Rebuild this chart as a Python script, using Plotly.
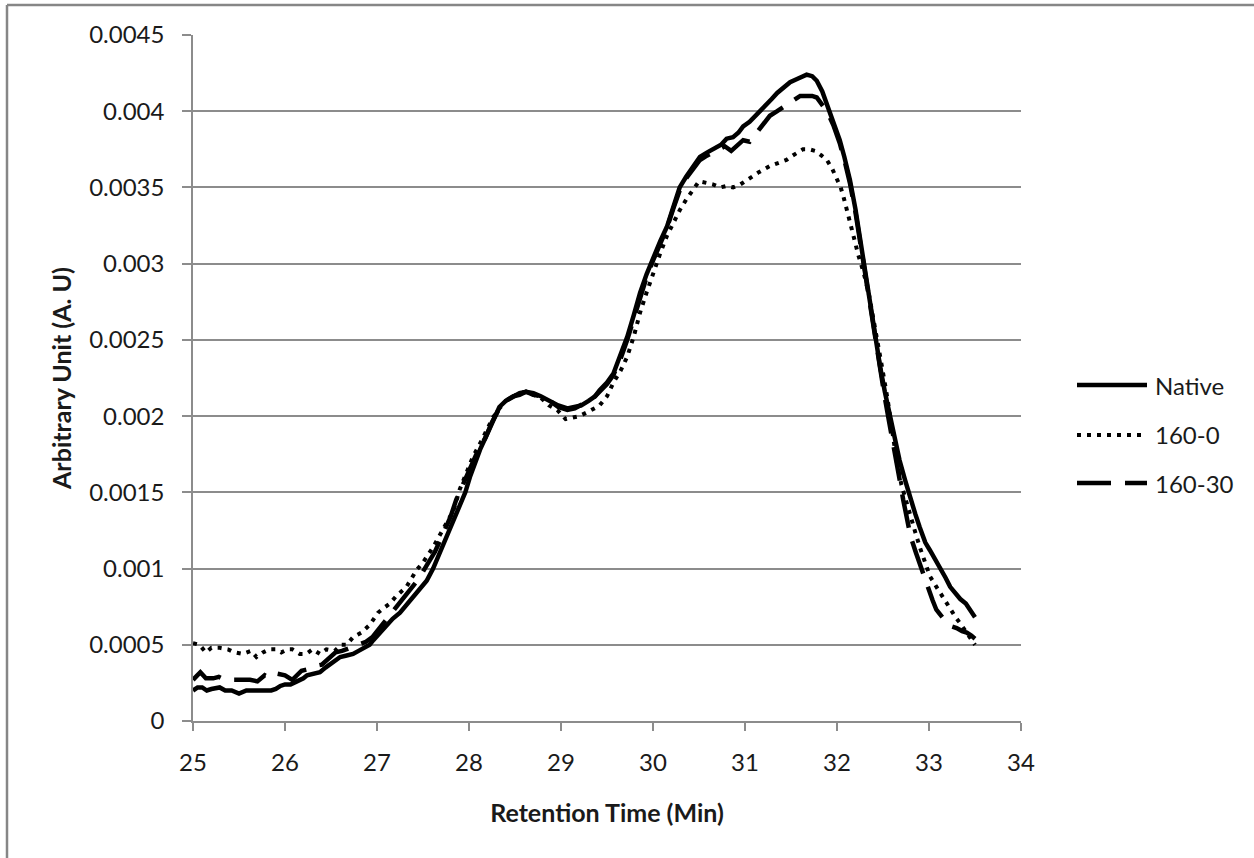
import plotly.graph_objects as go

# ---------------- data ----------------
native_t = [25.00, 25.05, 25.10, 25.15, 25.20, 25.29, 25.35, 25.42, 25.50, 25.58, 25.66, 25.76, 25.85, 25.90,
            25.95, 26.00, 26.06, 26.13, 26.20, 26.24, 26.31, 26.38, 26.44, 26.49, 26.55, 26.60, 26.67, 26.74,
            26.80, 26.87, 26.92, 26.96, 27.03, 27.10, 27.17, 27.25, 27.32, 27.39, 27.46, 27.54, 27.61, 27.68,
            27.74, 27.79, 27.85, 27.90, 27.96, 28.01, 28.07, 28.12, 28.18, 28.23, 28.28, 28.33, 28.40, 28.48,
            28.55, 28.62, 28.70, 28.78, 28.88, 28.97, 29.07, 29.15, 29.22, 29.30, 29.37, 29.42, 29.50, 29.57,
            29.65, 29.72, 29.79, 29.86, 29.93, 30.00, 30.08, 30.15, 30.22, 30.29, 30.36, 30.43, 30.51, 30.59,
            30.66, 30.74, 30.80, 30.87, 30.93, 30.98, 31.05, 31.10, 31.16, 31.22, 31.29, 31.35, 31.42, 31.49,
            31.56, 31.62, 31.67, 31.73, 31.78, 31.84, 31.89, 31.96, 32.03, 32.08, 32.14, 32.20, 32.25, 32.30,
            32.36, 32.41, 32.47, 32.52, 32.58, 32.63, 32.68, 32.74, 32.79, 32.85, 32.90, 32.96, 33.01, 33.07,
            33.12, 33.18, 33.23, 33.29, 33.34, 33.40, 33.45, 33.50]
native_v = [0.00020, 0.00022, 0.00022, 0.00020, 0.00021, 0.00022, 0.00020, 0.00020, 0.00018, 0.00020, 0.00020,
            0.00020, 0.00020, 0.00021, 0.00023, 0.00024, 0.00024, 0.00026, 0.00028, 0.00030, 0.00031, 0.00032,
            0.00035, 0.00037, 0.00040, 0.00042, 0.00043, 0.00044, 0.00046, 0.00048, 0.00050, 0.00053, 0.00058,
            0.00062, 0.00067, 0.00071, 0.00076, 0.00081, 0.00086, 0.00092, 0.00100, 0.00110, 0.00118, 0.00125,
            0.00133, 0.00140, 0.00150, 0.00160, 0.00170, 0.00178, 0.00186, 0.00193, 0.00200, 0.00206, 0.00210,
            0.00213, 0.00215, 0.00216, 0.00215, 0.00213, 0.00210, 0.00207, 0.00205, 0.00206, 0.00207, 0.00210,
            0.00213, 0.00217, 0.00222, 0.00228, 0.00240, 0.00252, 0.00266, 0.00281, 0.00293, 0.00304, 0.00315,
            0.00324, 0.00337, 0.00350, 0.00357, 0.00363, 0.00370, 0.00373, 0.00375, 0.00378, 0.00382, 0.00383,
            0.00386, 0.00390, 0.00393, 0.00396, 0.00400, 0.00403, 0.00408, 0.00412, 0.00416, 0.00419, 0.00421,
            0.00423, 0.00424, 0.00423, 0.00420, 0.00413, 0.00405, 0.00393, 0.00381, 0.00370, 0.00355, 0.00336,
            0.00316, 0.00296, 0.00272, 0.00252, 0.00232, 0.00216, 0.00198, 0.00184, 0.00171, 0.00158, 0.00147,
            0.00136, 0.00127, 0.00117, 0.00112, 0.00106, 0.00101, 0.00094, 0.00088, 0.00083, 0.00080, 0.00077,
            0.00073, 0.00068]

s160_0_t = [25.00, 25.07, 25.14, 25.20, 25.29, 25.38, 25.45, 25.54, 25.63, 25.69, 25.76, 25.83, 25.90, 25.96,
            26.03, 26.08, 26.16, 26.23, 26.30, 26.38, 26.45, 26.54, 26.61, 26.67, 26.74, 26.83, 26.92, 27.01,
            27.07, 27.14, 27.21, 27.32, 27.43, 27.50, 27.61, 27.72, 27.83, 27.90, 27.97, 28.04, 28.12, 28.19,
            28.26, 28.33, 28.40, 28.48, 28.55, 28.62, 28.70, 28.78, 28.87, 28.96, 29.05, 29.12, 29.20, 29.30,
            29.42, 29.50, 29.57, 29.65, 29.72, 29.79, 29.86, 29.93, 30.00, 30.08, 30.15, 30.22, 30.29, 30.36,
            30.43, 30.50, 30.58, 30.65, 30.73, 30.80, 30.87, 30.95, 31.05, 31.15, 31.27, 31.36, 31.45, 31.52,
            31.63, 31.70, 31.76, 31.83, 31.89, 31.95, 32.00, 32.04, 32.07, 32.12, 32.18, 32.23, 32.29, 32.35,
            32.40, 32.45, 32.49, 32.55, 32.60, 32.65, 32.70, 32.75, 32.79, 32.85, 32.90, 32.96, 33.01, 33.07,
            33.12, 33.18, 33.23, 33.29, 33.34, 33.40, 33.45, 33.50]
s160_0_v = [0.00051, 0.00050, 0.00045, 0.00048, 0.00048, 0.00047, 0.00045, 0.00044, 0.00046, 0.00042, 0.00045,
            0.00047, 0.00047, 0.00045, 0.00047, 0.00047, 0.00044, 0.00044, 0.00047, 0.00044, 0.00047, 0.00046,
            0.00050, 0.00050, 0.00055, 0.00058, 0.00063, 0.00071, 0.00074, 0.00077, 0.00082, 0.00088, 0.00099,
            0.00104, 0.00114, 0.00126, 0.00138, 0.00152, 0.00163, 0.00173, 0.00182, 0.00191, 0.00199, 0.00205,
            0.00210, 0.00213, 0.00215, 0.00216, 0.00214, 0.00212, 0.00207, 0.00204, 0.00198, 0.00199, 0.00200,
            0.00203, 0.00207, 0.00213, 0.00222, 0.00230, 0.00239, 0.00252, 0.00268, 0.00281, 0.00294, 0.00307,
            0.00318, 0.00327, 0.00335, 0.00342, 0.00348, 0.00354, 0.00353, 0.00352, 0.00350, 0.00351, 0.00350,
            0.00352, 0.00356, 0.00360, 0.00364, 0.00366, 0.00368, 0.00371, 0.00375, 0.00375, 0.00374, 0.00371,
            0.00368, 0.00362, 0.00356, 0.00350, 0.00344, 0.00331, 0.00318, 0.00306, 0.00294, 0.00279, 0.00263,
            0.00247, 0.00232, 0.00211, 0.00190, 0.00170, 0.00155, 0.00144, 0.00135, 0.00124, 0.00114, 0.00103,
            0.00095, 0.00089, 0.00084, 0.00078, 0.00073, 0.00068, 0.00064, 0.00059, 0.00055, 0.00050]

s160_30_t = [25.00, 25.04, 25.08, 25.14, 25.22, 25.28, 25.35, 25.45, 25.55, 25.62, 25.70, 25.78, 25.85, 25.92,
             26.00, 26.08, 26.13, 26.18, 26.25, 26.32, 26.40, 26.46, 26.55, 26.62, 26.70, 26.80, 26.88, 26.95,
             27.03, 27.10, 27.18, 27.28, 27.36, 27.45, 27.56, 27.63, 27.72, 27.80, 27.86, 27.93, 28.00, 28.08,
             28.18, 28.25, 28.32, 28.40, 28.48, 28.55, 28.62, 28.70, 28.78, 28.88, 28.97, 29.07, 29.15, 29.22,
             29.30, 29.37, 29.42, 29.50, 29.57, 29.65, 29.72, 29.79, 29.86, 29.93, 30.00, 30.08, 30.15, 30.22,
             30.29, 30.36, 30.43, 30.51, 30.59, 30.66, 30.72, 30.78, 30.85, 30.92, 30.98, 31.05, 31.13, 31.20,
             31.27, 31.35, 31.42, 31.52, 31.60, 31.67, 31.73, 31.78, 31.84, 31.89, 31.96, 32.03, 32.08, 32.14,
             32.20, 32.25, 32.30, 32.36, 32.41, 32.47, 32.52, 32.57, 32.62, 32.67, 32.72, 32.76, 32.80, 32.86,
             32.93, 32.99, 33.04, 33.08, 33.14, 33.20, 33.25, 33.30, 33.36, 33.41, 33.46, 33.50]
s160_30_v = [0.00027, 0.00030, 0.00032, 0.00028, 0.00028, 0.00029, 0.00027, 0.00027, 0.00027, 0.00027, 0.00026,
             0.00030, 0.00028, 0.00031, 0.00030, 0.00027, 0.00030, 0.00033, 0.00034, 0.00036, 0.00037, 0.00040,
             0.00045, 0.00046, 0.00048, 0.00050, 0.00052, 0.00055, 0.00061, 0.00066, 0.00072, 0.00080, 0.00086,
             0.00093, 0.00104, 0.00111, 0.00123, 0.00134, 0.00145, 0.00155, 0.00165, 0.00175, 0.00186, 0.00196,
             0.00204, 0.00210, 0.00213, 0.00214, 0.00216, 0.00214, 0.00213, 0.00210, 0.00206, 0.00204, 0.00205,
             0.00207, 0.00210, 0.00213, 0.00216, 0.00221, 0.00227, 0.00238, 0.00250, 0.00264, 0.00279, 0.00291,
             0.00302, 0.00313, 0.00323, 0.00336, 0.00348, 0.00356, 0.00362, 0.00368, 0.00371, 0.00373, 0.00375,
             0.00377, 0.00374, 0.00378, 0.00381, 0.00380, 0.00386, 0.00392, 0.00397, 0.00400, 0.00403, 0.00407,
             0.00410, 0.00410, 0.00410, 0.00409, 0.00404, 0.00400, 0.00391, 0.00379, 0.00368, 0.00353, 0.00334,
             0.00315, 0.00294, 0.00270, 0.00250, 0.00228, 0.00212, 0.00195, 0.00180, 0.00162, 0.00145, 0.00132,
             0.00121, 0.00110, 0.00098, 0.00086, 0.00079, 0.00073, 0.00068, 0.00064, 0.00062, 0.00061, 0.00059,
             0.00058, 0.00056, 0.00054]

series_names = ["Native", "160-0", "160-30"]

x_tick_vals = [25, 26, 27, 28, 29, 30, 31, 32, 33, 34]
y_tick_vals = [0, 0.0005, 0.001, 0.0015, 0.002, 0.0025, 0.003, 0.0035, 0.004, 0.0045]
y_tick_text = ["0", "0.0005", "0.001", "0.0015", "0.002", "0.0025", "0.003", "0.0035", "0.004", "0.0045"]

x_title = "Retention Time (Min)"
y_title = "Arbitrary Unit (A. U)"

# ---------------- styling ----------------
W, H = 1254, 858
L, R, T, B = 193, 233, 35, 137
PW, PH = W - L - R, H - T - B
FONT = "Lato, 'Open Sans', Arial, sans-serif"
GRID = "#8c8c8c"

def px_x(px):
    return (px - L) / PW

def px_y(py):
    return (H - B - py) / PH

styles = [
    dict(color="black", width=4.5, dash="solid"),
    dict(color="black", width=4, dash="4px,6px"),
    dict(color="black", width=4.5, dash="34px,14px"),
]
datasets = [(native_t, native_v), (s160_0_t, s160_0_v), (s160_30_t, s160_30_v)]

fig = go.Figure()
for name, (t, v), st in zip(series_names, datasets, styles):
    fig.add_trace(go.Scatter(x=t, y=v, mode="lines", name=name, line=st, showlegend=False))

fig.update_layout(
    width=W, height=H,
    margin=dict(l=L, r=R, t=T, b=B, autoexpand=False),
    paper_bgcolor="white", plot_bgcolor="white",
    font=dict(family=FONT, size=24, color="#1a1a1a"),
)
fig.update_xaxes(
    range=[25, 34], tickvals=x_tick_vals, showgrid=False, zeroline=False,
    showline=True, linecolor=GRID, linewidth=1.5,
    ticks="outside", ticklen=8, tickcolor=GRID, tickwidth=1.5,
    ticklabelstandoff=11,
    title=dict(text="<b>" + x_title + "</b>", font=dict(size=25), standoff=30),
)
fig.update_yaxes(
    range=[0, 0.0045], tickvals=y_tick_vals, ticktext=y_tick_text,
    showgrid=True, gridcolor=GRID, gridwidth=1.5, zeroline=False,
    showline=True, linecolor=GRID, linewidth=1.5,
    ticks="outside", ticklen=9, tickcolor=GRID, tickwidth=1.5,
    ticklabelstandoff=13,
    title=dict(text="<b>" + y_title + "</b>", font=dict(size=25), standoff=10),
)

# outer chart-area border (left and top edges visible in the reference)
fig.add_shape(type="line", xref="paper", yref="paper", x0=px_x(7), x1=px_x(7), y0=px_y(H + 5), y1=px_y(5),
              line=dict(color="#868686", width=2.5))
fig.add_shape(type="line", xref="paper", yref="paper", x0=px_x(7), x1=px_x(W + 5), y0=px_y(5), y1=px_y(5),
              line=dict(color="#868686", width=2.5))

# legend (drawn manually to match the long Excel-style legend keys)
leg_y = [385, 435, 483]
for name, st, ly in zip(series_names, styles, leg_y):
    fig.add_shape(type="line", xref="paper", yref="paper", x0=px_x(1077), x1=px_x(1147),
                  y0=px_y(ly), y1=px_y(ly), line=st)
    fig.add_annotation(xref="paper", yref="paper", x=px_x(1153), y=px_y(ly), text=name,
                       showarrow=False, xanchor="left", yanchor="middle",
                       font=dict(family=FONT, size=24, color="#1a1a1a"))

fig.write_html("out.html")
